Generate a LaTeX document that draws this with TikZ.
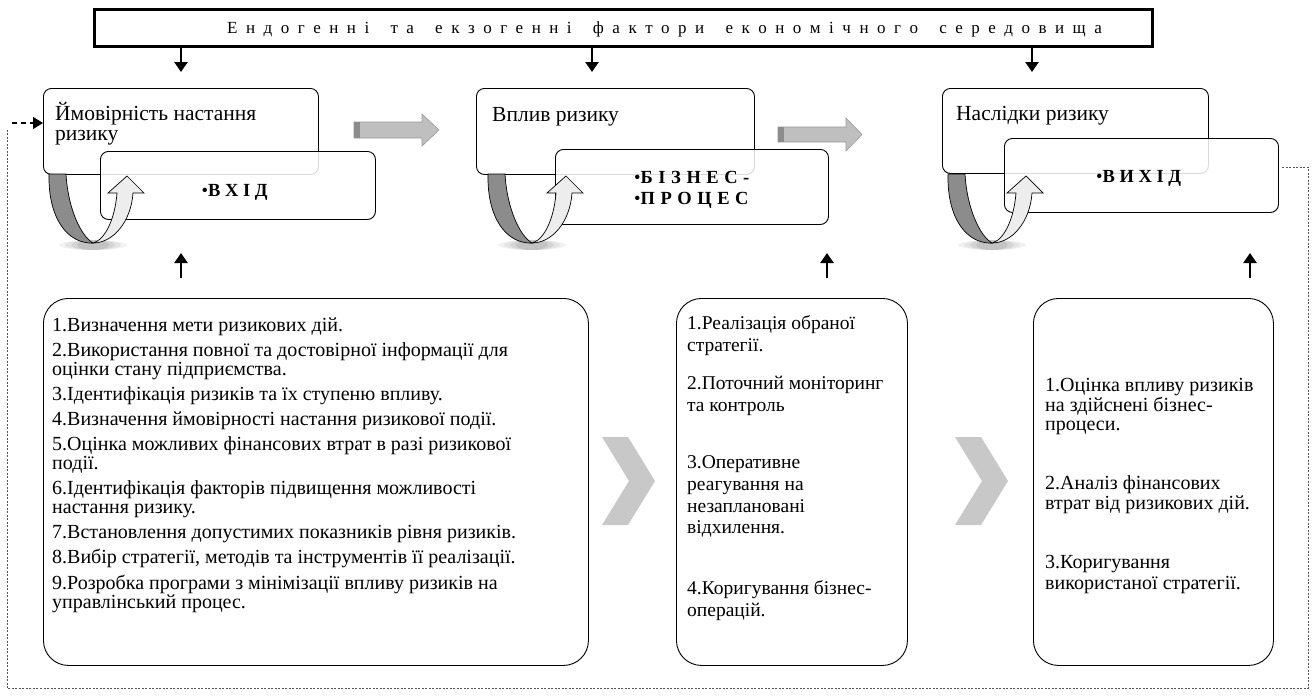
\documentclass[tikz,border=0pt]{standalone}
\usepackage{fontspec}
\setmainfont{Liberation Serif}
\usetikzlibrary{arrows.meta}

% letter-spaced text: \spreadtext{<kern>}{<letters, ~ for a space>}
\newcommand\spreadkern{0pt}
\newcommand\spreadtext[2]{\renewcommand\spreadkern{#1}\spreadstep#2\relax}
\def\spreadstep#1{\ifx#1\relax\else#1\kern\spreadkern\relax\expandafter\spreadstep\fi}

\definecolor{bandDark}{HTML}{8C8C8C}
\definecolor{bandLight}{HTML}{EDEDED}
\definecolor{blockGray}{HTML}{BFBFBF}
\definecolor{blockEdge}{HTML}{9A9A9A}
\definecolor{chevGray}{HTML}{C8C8C8}
\definecolor{loopGray}{HTML}{555555}

\tikzset{
  txt/.style={inner sep=0pt, anchor=base west, font=\fontsize{21.5}{21.5}\selectfont},
  plantxt/.style={inner sep=0pt, anchor=base west, font=\fontsize{20}{20}\selectfont},
  runtxt/.style={inner sep=0pt, anchor=base west, font=\fontsize{19.5}{19.5}\selectfont},
  evaltxt/.style={inner sep=0pt, anchor=base west, font=\fontsize{20}{20}\selectfont},
  stagetxt/.style={inner sep=0pt, anchor=base, font=\fontsize{18.5}{18.5}\selectfont},
  backbox/.style={draw=black, line width=0.9pt, rounded corners=8pt, fill=white,
    anchor=north west, inner sep=0pt},
  frontbox/.style={draw=black, line width=0.9pt, rounded corners=8pt, fill=white,
    fill opacity=0.85, anchor=north west, inner sep=0pt},
  listbox/.style={draw=black, line width=0.9pt, rounded corners=25pt,
    anchor=north west, inner sep=0pt, minimum height=367pt},
  flowarrow/.style={line width=2.4pt, -{Triangle[width=13pt,length=10pt]}},
  blockarrow/.style={fill=blockGray, draw=blockEdge, line width=0.6pt},
  chevron/.style={fill=chevGray, draw=none},
  loopline/.style={draw=loopGray, line width=0.6pt, dash pattern=on 2pt off 1.5pt},
  looparrow/.style={line width=1.2pt, dash pattern=on 5pt off 4pt,
    -{Triangle[width=12pt,length=10pt]}},
}

% twisted U-turn arrow under a stage box; #1 = left x of the ribbon
\newcommand\riskloop[1]{%
  \begin{scope}[shift={(#1,174)}]
    \foreach \r/\o in {34/0.05,28/0.06,22/0.07,16/0.08}
      \fill[black, opacity=\o] (50,71) ellipse ({\r} and 5);
    \draw[fill=bandDark, line width=0.7pt]
      (6,0) -- (23,0) .. controls (25,35) and (38,62) .. (50,69)
      .. controls (25,70) and (5,45) .. (6,0) -- cycle;
    \draw[fill=bandLight, line width=0.7pt]
      (50,69) .. controls (70,69) and (88,48) .. (90,19) -- (101,19) -- (84,2)
      -- (65,19) -- (74,19) .. controls (72,45) and (62,66) .. (50,69) -- cycle;
  \end{scope}}

\begin{document}
\begin{tikzpicture}[x=1pt, y=-1pt]
\useasboundingbox (0,0) rectangle (1312,697);

% environment banner
\node[draw, line width=3pt, anchor=north west, inner sep=0pt,
      minimum width=1058pt, minimum height=37pt] (banner) at (93,8) {};
\node[inner sep=0pt, anchor=base west, font=\fontsize{17}{17}\selectfont] (bannertxt) at (227,33)
  {\spreadtext{0.5em}{Ендогенні~та~екзогенні~фактори~економічного~середовища}};

% stage 1: input
\node[backbox, minimum width=275pt, minimum height=86pt] (probbox) at (43,88) {};
\node[txt] (probtxt1) at (55,120) {Ймовірність настання};
\node[txt] (probtxt2) at (55,140) {ризику};
\node[frontbox, minimum width=275pt, minimum height=68pt] (inbox) at (100,151) {};
\node[stagetxt] (intxt) at (237,196) {•\textbf{\spreadtext{0.25em}{ВХІД}}};
\riskloop{43}

% stage 2: business process
\node[backbox, minimum width=278pt, minimum height=86pt] (impbox) at (476,88) {};
\node[txt] (imptxt) at (492,121) {Вплив ризику};
\node[frontbox, minimum width=273pt, minimum height=75pt] (procbox) at (555,149) {};
\node[stagetxt, anchor=base west] (proctxt1) at (634,183) {•\textbf{\spreadtext{0.3em}{БІЗНЕС-}}};
\node[stagetxt, anchor=base west] (proctxt2) at (634,204) {•\textbf{\spreadtext{0.3em}{ПРОЦЕС}}};
\riskloop{482}

% stage 3: output
\node[backbox, minimum width=266pt, minimum height=85pt] (consbox) at (942,88) {};
\node[txt] (constxt) at (956,120) {Наслідки ризику};
\node[frontbox, minimum width=274pt, minimum height=74pt] (outbox) at (1004,138) {};
\node[stagetxt] (outtxt) at (1141,182) {•\textbf{\spreadtext{0.25em}{ВИХІД}}};
\riskloop{942}

% block arrows between stages
\draw[blockarrow] (354,122) -- (422,122) -- (422,114) -- (439,130) -- (422,146)
  -- (422,138) -- (354,138) -- cycle;
\fill[bandDark] (354.3,122.3) rectangle (358,137.7);
\fill[black!45] (358,122.3) rectangle (359.5,137.7);
\draw[blockarrow] (778,127) -- (846,127) -- (846,118) -- (862,134.5) -- (846,151)
  -- (846,142) -- (778,142) -- cycle;
\fill[bandDark] (778.3,127.3) rectangle (782,141.7);
\fill[black!45] (782,127.3) rectangle (783.5,141.7);

% influence of the environment
\coordinate (dn1a) at (181,48);  \coordinate (dn1b) at (181,72);
\coordinate (dn2a) at (592,48);  \coordinate (dn2b) at (592,72);
\coordinate (dn3a) at (1032,48); \coordinate (dn3b) at (1032,72);
\draw[flowarrow] (dn1a) -- (dn1b);
\draw[flowarrow] (dn2a) -- (dn2b);
\draw[flowarrow] (dn3a) -- (dn3b);

% management actions feeding each stage
\coordinate (up1a) at (181,278);  \coordinate (up1b) at (181,253);
\coordinate (up2a) at (827,278);  \coordinate (up2b) at (827,253);
\coordinate (up3a) at (1250,278); \coordinate (up3b) at (1250,253);
\draw[flowarrow] (up1a) -- (up1b);
\draw[flowarrow] (up2a) -- (up2b);
\draw[flowarrow] (up3a) -- (up3b);

% action lists
\node[listbox, minimum width=545pt] (planbox) at (43,298) {};
\node[listbox, minimum width=231pt] (runbox) at (676,298) {};
\node[listbox, minimum width=240pt] (evalbox) at (1033,298) {};

\foreach \ty/\tx [count=\n] in {
  331/{1.Визначення мети ризикових дій.},
  356/{2.Використання повної та достовірної інформації для},
  375/{оцінки стану підприємства.},
  400/{3.Ідентифікація ризиків та їх ступеню впливу.},
  425/{4.Визначення ймовірності настання ризикової події.},
  450/{5.Оцінка можливих фінансових втрат в разі ризикової},
  469/{події.},
  494.5/{6.Ідентифікація факторів підвищення можливості},
  513.5/{настання ризику.},
  538.5/{7.Встановлення допустимих показників рівня ризиків.},
  563.5/{8.Вибір стратегії, методів та інструментів її реалізації.},
  589/{9.Розробка програми з мінімізації впливу ризиків на},
  608/{управлінський процес.}}
  \node[plantxt] (plan-\n) at (52,\ty) {\tx};

\foreach \ty/\tx [count=\n] in {
  329/{1.Реалізація обраної},
  351/{стратегії.},
  389/{2.Поточний моніторинг},
  411/{та контроль},
  468/{3.Оперативне},
  490/{реагування на},
  512/{незаплановані},
  533/{відхилення.},
  594/{4.Коригування бізнес-},
  616/{операцій.}}
  \node[runtxt] (run-\n) at (687,\ty) {\tx};

\foreach \ty/\tx [count=\n] in {
  391/{1.Оцінка впливу ризиків},
  411/{на здійснені бізнес-},
  430/{процеси.},
  489/{2.Аналіз фінансових},
  509/{втрат від ризикових дій.},
  568/{3.Коригування},
  589/{використаної стратегії.}}
  \node[evaltxt] (eval-\n) at (1045,\ty) {\tx};

% chevrons between the lists
\fill[chevron] (602,437) -- (628,437) -- (655,481) -- (628,525) -- (602,525) -- (629,481) -- cycle;
\fill[chevron] (955,437) -- (981,437) -- (1008,481) -- (981,525) -- (955,525) -- (982,481) -- cycle;

% feedback loop from output back to input
\coordinate (fbstart) at (1282,167);
\coordinate (fbright) at (1308,167);
\coordinate (fbbr) at (1308,688);
\coordinate (fbbl) at (7,688);
\coordinate (fbtop) at (7,128);
\coordinate (fbarrow) at (12,123);
\draw[loopline] (fbstart) -- (fbright) -- (fbbr) -- (fbbl) -- (fbtop);
\draw[looparrow] (fbarrow) -- (fbarrow -| probbox.west);
\end{tikzpicture}
\end{document}
